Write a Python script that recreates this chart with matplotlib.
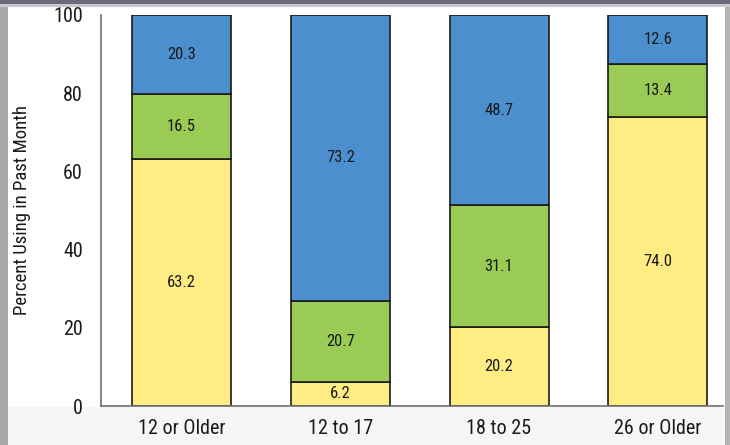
import matplotlib
matplotlib.use("Agg")
from matplotlib import pyplot as plt
from matplotlib import font_manager
from matplotlib.patches import Rectangle
import numpy as np

installed = set(f.name for f in font_manager.fontManager.ttflist)
narrow = [n for n in ['Arial Narrow', 'Liberation Sans Narrow', 'Roboto Condensed',
                      'Archivo Narrow', 'PT Sans Narrow', 'Pragati Narrow', 'Asap Condensed']
          if n in installed]
plt.rcParams['font.family'] = narrow[:1] + ['Liberation Sans', 'DejaVu Sans']

groups = ['12 or Older', '12 to 17', '18 to 25', '26 or Older']
yellow_vals = [63.2, 6.2, 20.2, 74.0]
green_vals = [16.5, 20.7, 31.1, 13.4]
blue_vals = [20.3, 73.2, 48.7, 12.6]

colors = ['#FFEC83', '#99CB55', '#4B8FCE']

fig = plt.figure(figsize=(7.3, 4.45), dpi=100)
fig.patch.set_facecolor('white')

# screenshot frame bits
def frame_rect(x0, y0, w, h, c):
    fig.patches.append(Rectangle((x0/730, 1 - (y0 + h)/445), w/730, h/445,
                                 transform=fig.transFigure, facecolor=c,
                                 edgecolor='none', zorder=-10))

frame_rect(8, 407, 717, 38, '#f6f6f6')
frame_rect(0, 0, 8, 445, '#a9a9a9')
frame_rect(725, 0, 5, 445, '#b4b4b4')
frame_rect(0, 0, 730, 7, '#c8c8d0')
frame_rect(0, 0, 730, 4, '#6a6a78')

ax = fig.add_axes([101/730, 1 - 406/445, 622/730, 391/445])
ax.set_facecolor('white')
ax.patch.set_alpha(0)

x = np.arange(len(groups))
w = 0.623
bottom = np.zeros(len(groups))
for vals, c in zip([yellow_vals, green_vals, blue_vals], colors):
    ax.bar(x, vals, w, bottom=bottom, color=c, edgecolor='#1a1a1a', linewidth=1.2, zorder=2)
    for xi, b, v in zip(x, bottom, vals):
        ax.text(xi, b + v / 2, f'{v:.1f}', ha='center', va='center', fontsize=12,
                color='#1a1a1a', zorder=3)
    bottom = bottom + np.array(vals)

ax.set_xlim(-0.506, 3.41)
ax.set_ylim(0, 100)
ax.set_yticks([0, 20, 40, 60, 80, 100])
ax.set_xticks(x)
ax.set_xticklabels(groups, fontsize=14.5, color='#1a1a1a')
ax.tick_params(axis='y', length=0, pad=13, labelsize=14.5, labelcolor='#1a1a1a')
ax.tick_params(axis='x', length=0, pad=9)
for s in ['top', 'right']:
    ax.spines[s].set_visible(False)
for s in ['left', 'bottom']:
    ax.spines[s].set_color('#707070')
    ax.spines[s].set_linewidth(1.2)

fig.text(22/730, 1 - 210/445, 'Percent Using in Past Month', rotation=90, ha='center',
         va='center', fontsize=13.5, color='#1a1a1a')

fig.savefig('out.png', dpi=100)
